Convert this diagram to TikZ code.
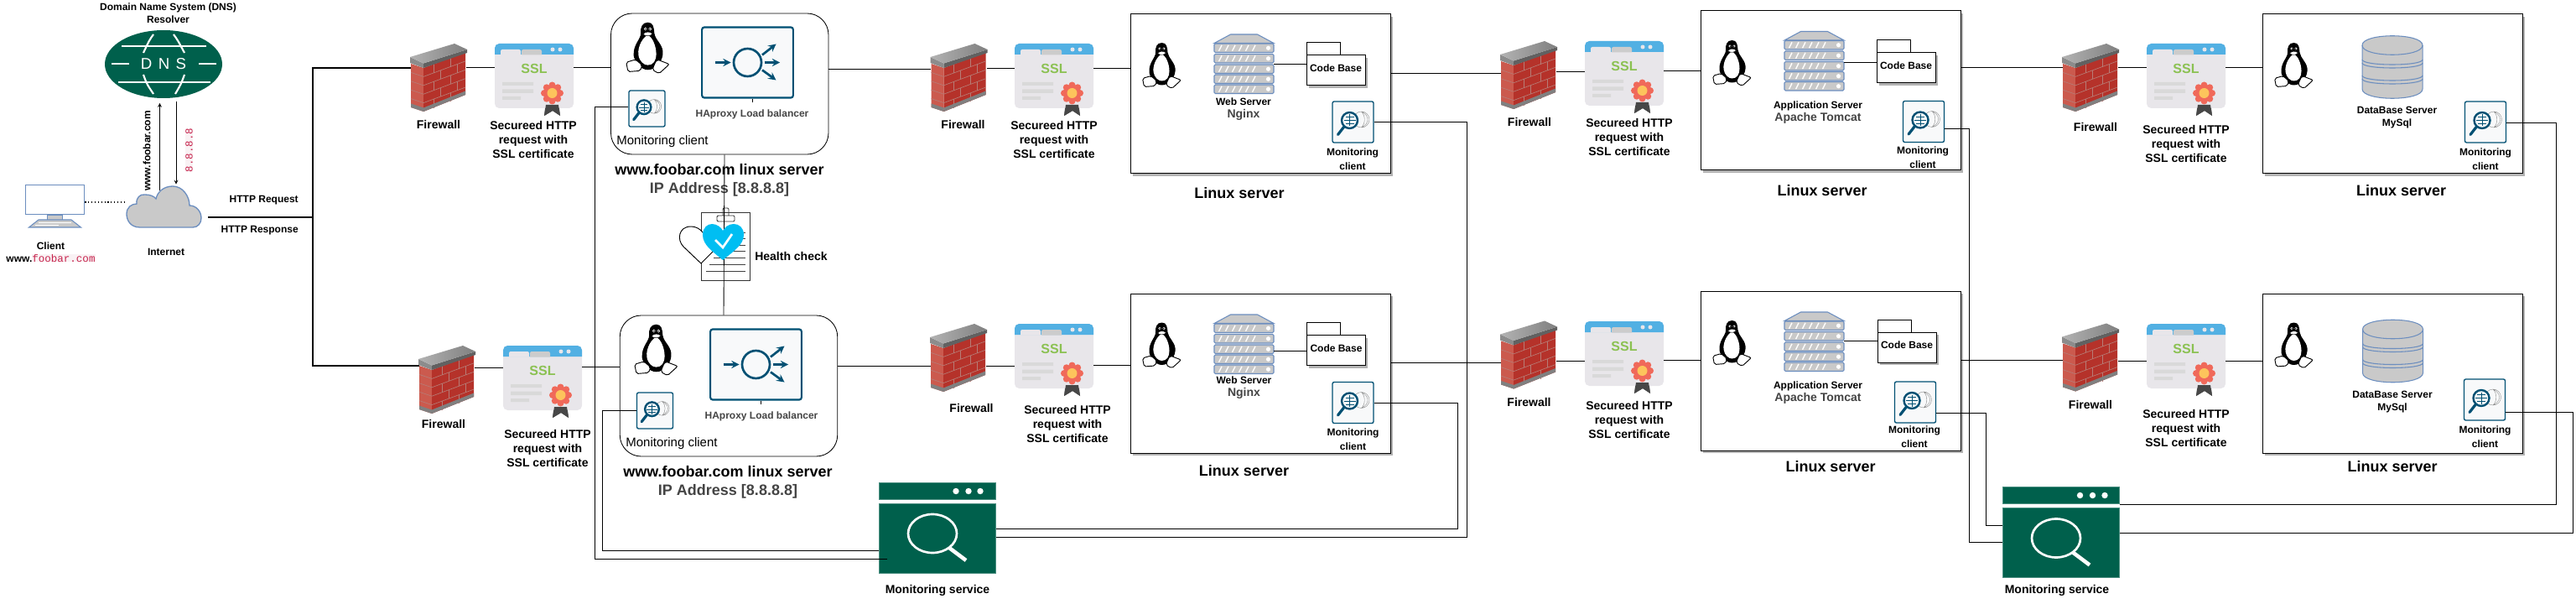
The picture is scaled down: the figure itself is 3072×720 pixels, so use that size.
\documentclass[tikz,border=0pt]{standalone}
\usepackage{fontspec}
\setmainfont{Liberation Sans}
\setsansfont{Liberation Sans}
\setmonofont{Liberation Mono}
\usepackage{xcolor}
\usepackage{tikz}
\usetikzlibrary{shapes,positioning,shadows}
\definecolor{dkgreen}{HTML}{00604C}
\definecolor{edgeblue}{HTML}{6C8EBF}
\definecolor{softgray}{HTML}{C9C9C9}
\definecolor{tealbox}{HTML}{005073}
\definecolor{paper}{HTML}{F8F9FA}
\definecolor{crim}{HTML}{C7254E}
\definecolor{crimbg}{HTML}{F9F2F4}
\definecolor{skyblue}{HTML}{52B0E3}
\definecolor{certbg}{HTML}{E8E6EA}
\definecolor{sslgreen}{HTML}{8BC152}
\definecolor{heartblue}{HTML}{00BEF2}
\definecolor{brick}{HTML}{B5322A}
\definecolor{bricklt}{HTML}{CB5A4E}
\definecolor{txtgray}{HTML}{444444}
\definecolor{rosette}{HTML}{F0695A}
\definecolor{rosettein}{HTML}{FDC45C}
\tikzset{
  wire/.style={draw=black,line width=.65pt},
  fatwire/.style={draw=black,line width=1.5pt},
  lbls/.style={font=\bfseries\fontsize{9}{12.75}\selectfont,align=center,inner sep=0pt},
  lblm/.style={font=\bfseries\fontsize{10.5}{12.75}\selectfont,align=center,inner sep=0pt},
  lblb/.style={font=\bfseries\fontsize{13.5}{16.5}\selectfont,align=center,inner sep=0pt},
  lblstack/.style={font=\bfseries\fontsize{9}{11.25}\selectfont,align=center,inner sep=0pt},
  fwbox/.style={inner sep=0pt,minimum width=49.5pt,minimum height=60pt},
  sslbox/.style={inner sep=0pt,minimum width=70.5pt,minimum height=64.5pt},
  stackbox/.style={inner sep=0pt,minimum width=53.25pt,minimum height=53.25pt},
  lbbox/.style={draw,rounded corners=19pt,line width=.65pt,minimum width=194.6pt,minimum height=126pt},
  srvbox/.style={draw,fill=white,line width=.75pt,minimum width=232.5pt,minimum height=142.5pt,
    drop shadow={shadow xshift=2pt,shadow yshift=-2.5pt,fill=black!30,opacity=1}},
  foldbox/.style={draw,fill=white,line width=.75pt,inner sep=0pt,text depth=4pt,minimum width=52.5pt,minimum height=27pt,
    font=\bfseries\fontsize{9}{11}\selectfont,drop shadow={shadow xshift=2pt,shadow yshift=-2.5pt,fill=black!30,opacity=1}},
  monbox/.style={draw=tealbox,fill=paper,rounded corners=1.5pt,line width=1pt,inner sep=0pt,minimum width=36.75pt,minimum height=36.75pt},
  monsmall/.style={monbox,minimum width=32.25pt,minimum height=32.25pt},
  habox/.style={draw=tealbox,fill=paper,rounded corners=2pt,line width=1.6pt,inner sep=0pt,minimum width=81.5pt,minimum height=63pt},
  svcbody/.style={draw=dkgreen!70!white,fill=dkgreen,inner sep=0pt,minimum width=104.5pt,minimum height=62.5pt},
  svcbar/.style={svcbody,minimum height=15.25pt},
  firewall/.pic={
    \fill[bricklt] (-33,-16.5) -- (-18,-11.5) -- (-18,40.5) -- (-33,35.5) -- cycle;
    \fill[brick] (-18,-11.5) -- (32,-30) -- (32,20.5) -- (-18,40.5) -- cycle;
    \foreach \m in {1,...,4} {
      \draw[black!25!bricklt!70!white,line width=.5pt] (-33,{-16.5+10.4*\m}) -- (-18,{-11.5+10.4*\m}) -- (32,{-30+10.4*\m});
    }
    \foreach \p/\m in {-6/0,14/0,2/1,22/1,-6/2,14/2,2/3,22/3,-6/4,14/4} {
      \draw[black!25!bricklt!70!white,line width=.5pt] (\p,{-11.5+(\p+18)*(-0.37)+10.4*\m}) -- ++(0,10.4);
    }
    \fill[black!50] (-18,40.5) -- (32,20.5) -- (32,16) -- (-18,36) -- cycle;
    \fill[black!50] (-33,35.5) -- (-18,40.5) -- (-18,36) -- (-33,31) -- cycle;
    \fill[black!45] (-34,-24.5) -- (-18,-17) -- (-18,-11.5) -- (-34,-17.5) -- cycle;
    \fill[black!62] (-18,-17) -- (34,-33.5) -- (34,-29.5) -- (-18,-11.5) -- cycle;
    \shade[left color=black!30,right color=black!50] (-34,-24.5) -- (19,-40.5) -- (34,-33.5) -- (-18,-17) -- cycle;
  },
  sslcert/.pic={
    \fill[black!72] (14,26) -- (29,26) -- (31,43) -- (22,37) -- (12,43) -- cycle;
    \fill[certbg,rounded corners=4pt] (-47,-43) rectangle (47,34);
    \fill[black!72] (14,30) -- (29,30) -- (31,43) -- (22,37) -- (12,43) -- cycle;
    \fill[skyblue] (-47,-30) [rounded corners=4pt] -- (-47,-43) -- (47,-43) [sharp corners] -- (47,-30) -- cycle;
    \fill[certbg] (-40,-29.5) [rounded corners=1.5pt] -- (-40,-36) -- (-16,-36) [sharp corners] -- (-16,-29.5) -- cycle;
    \fill[black!20] (-15,-29.5) [rounded corners=1.5pt] -- (-15,-36) -- (9,-36) [sharp corners] -- (9,-29.5) -- cycle;
    \fill[certbg] (22,-36) circle (2.5) (31,-36) circle (2.5);
    \node[inner sep=0pt,text=sslgreen,font=\bfseries\fontsize{12}{14}\selectfont] (-txt) at (0,-13) {SSL};
    \fill[black!15] (-38,3) rectangle (-1,7) (-38,11.5) rectangle (-1,16) (-38,20) rectangle (-16,24);
    \foreach \a in {0,45,...,315} {\fill[rosette] (21.5,16) ++(\a:9.5) circle (4);}
    \fill[rosette] (21.5,16) circle (10);
    \fill[rosettein] (21.5,16) circle (6);
  },
  tux/.pic={
    \fill[black] (0,-27.5) .. controls (-6,-27.5) and (-8,-22) .. (-7.5,-16) .. controls (-7,-10) and (-16,-4) .. (-15,8) .. controls (-14,14) and (-8,23) .. (0,23) .. controls (10,23) and (17,12) .. (16,3) .. controls (15,-5) and (8,-9) .. (7,-16) .. controls (6.5,-22) and (6,-27.5) .. (0,-27.5) -- cycle;
    \fill[white] (0,-14) .. controls (-5,-12) and (-11,-2) .. (-10,7) .. controls (-9,14) and (-4,18) .. (0,18) .. controls (6,18) and (9,13) .. (9,6) .. controls (9,-2) and (5,-12) .. (0,-14) -- cycle;
    \fill[white] (-2.5,-20.5) circle (1.7) (2.5,-20.5) circle (1.7);
    \fill[black] (-2.2,-20.3) circle (.8) (2.2,-20.3) circle (.8);
    \draw[fill=white,line width=.3pt] (-5,-15) .. controls (-2,-18) and (2,-18) .. (5,-15.5) .. controls (3,-12.5) and (-3,-12.5) .. (-5,-15) -- cycle;
    \draw[fill=white,line width=.7pt,rounded corners=1.5pt] (-13,12) -- (-23,15) -- (-21,25) -- (-8,24) -- (-6,18) -- cycle;
    \draw[fill=white,line width=.7pt,rounded corners=1.5pt] (10,12) -- (23,17) -- (12,27) -- (5,23) -- (7,17) -- cycle;
  },
  monglass/.pic={
    \draw[black!45,line width=.3pt] (10,-3) circle (9.5) (10,-12.5) .. controls (15,-8) and (15,2) .. (10,6.5) (10,-12.5) .. controls (20,-8) and (20,2) .. (10,6.5);
    \draw[tealbox,fill=paper,line width=1.8pt] (-4,-2) circle (9.5);
    \draw[tealbox,line width=.3pt] (-4,-9) -- (-4,5) (-11,-2) -- (3,-2) (-9,-6) -- (1,-6) (-9,2) -- (1,2);
    \draw[tealbox,line width=2.4pt,line cap=round] (-11,6) -- (-18,15);
  },
  stack/.pic={
    \draw[draw=edgeblue,fill=softgray,line width=.8pt] (-35.5,-25) -- (-16,-35.5) -- (16,-35.5) -- (35.5,-25) -- cycle;
    \foreach \tp in {-24.5,-12,0.5,12.5,24.5} {
      \draw[draw=edgeblue,fill=softgray,line width=.8pt,rounded corners=1pt] (-35.5,\tp) rectangle (35.5,{\tp+10.5});
      \foreach \s in {-30,-22,-14,-6,2,10} {\draw[white,line width=1pt] (\s,{\tp+8.7}) -- ({\s+3.5},{\tp+1.8});}
      \fill[white] (29,{\tp+5.25}) circle (2.6);
    }
  },
  dbcyl/.pic={
    \draw[draw=edgeblue,fill=softgray,line width=.8pt] (-36,-26) -- (-36,26) .. controls (-36,41) and (36,41) .. (36,26) -- (36,-26) .. controls (36,-41) and (-36,-41) .. (-36,-26) -- cycle;
    \draw[draw=edgeblue,line width=.8pt] (-36,-26) .. controls (-36,-11) and (36,-11) .. (36,-26);
    \foreach \tp in {-9,-5,10,14} {\draw[draw=edgeblue,line width=.8pt] (-36,\tp) .. controls (-36,{\tp+8}) and (36,{\tp+8}) .. (36,\tp);}
  },
  lbflow/.pic={
    \draw[tealbox,line width=2pt] (0,0) circle (16.5);
    \draw[tealbox,line width=2pt,->,>=stealth] (-39,0) -- (-20,0);
    \draw[tealbox,line width=2pt,->,>=stealth] (20,0) -- (38.5,0);
    \draw[tealbox,line width=2pt,->,>=stealth] (17.5,-9) -- (34,-22);
    \draw[tealbox,line width=2pt,->,>=stealth] (17.5,9) -- (34,21);
  }
}
\newcommand{\wire}[3]{\draw[wire] (#1.east |- 0,#3) -- (#2.west |- 0,#3);}

\begin{document}
\begin{tikzpicture}[>=stealth,x=0.75pt,y=-0.75pt]
    \useasboundingbox (0,0) rectangle (3072,720);

    \node[ellipse,fill=dkgreen,minimum width=105pt,minimum height=60.75pt,inner sep=0pt] (dns)at (195,76.5) {};
    \draw[white,line width=1.3pt] (145,54.7) -- (246,54.7) (141,97.7) -- (251,97.7) (133,76) -- (154,76) (237,76) -- (258,76);
    \draw[white,line width=1.6pt] (183,41) .. controls (178,48) .. (171,63) (207,41) .. controls (212,48) .. (220,63) (171,89) .. controls (175,100) .. (183,112) (220,89) .. controls (216,100) .. (209,112);
    \node[inner sep=0pt,text=white,font=\fontsize{14}{16}\selectfont\addfontfeature{LetterSpace=40}] (dnstxt)at (195,76.5) {DNS};
    \node[lblstack] (dnslbl)at (200.5,15.5) {Domain Name System (DNS)\\Resolver};

    \node[inner sep=0pt,minimum width=66.75pt,minimum height=36.75pt] (inet)at (195.5,246.5) {};
    \draw[draw=edgeblue,fill=softgray,line width=1pt] (167,271) .. controls (155,271) and (151,262) .. (151,255) .. controls (151,247) and (157,243) .. (163,243) .. controls (162,236) and (167,231) .. (173,232) .. controls (179,232) and (184,234) .. (186,237) .. controls (188,228) and (196,222) .. (206,222) .. controls (218,222) and (226,234) .. (226,245) .. controls (234,245) and (240,252) .. (240,260) .. controls (240,266) and (236,271) .. (230,271) -- cycle;
    \node[lbls] (inetlbl)at (198,300) {Internet};

    \node[draw=edgeblue,fill=white,line width=1.2pt,inner sep=0pt,minimum width=52.5pt,minimum height=26.5pt] (client)at (65.5,238) {};
    \draw[draw=edgeblue,fill=softgray,line width=.6pt] (56.5,256.5) rectangle (74.5,262);
    \draw[draw=edgeblue,fill=softgray,line width=.8pt] (46,262) -- (85,262) -- (96.5,271) -- (34.5,271) -- cycle;
    \draw[white,line width=.6pt] (46,265.5) -- (85,265.5) (42,268.5) -- (70,268.5);
    \node[lbls,font=\bfseries\fontsize{9}{11.25}\selectfont] (clientlbl)at (60.5,300.5) {Client\\www.\fboxsep=0pt\colorbox{crimbg}{\ttfamily\mdseries\fontsize{9.4}{11.25}\selectfont\textcolor{crim}{foobar.com}}};
    \draw[black,line width=.9pt,dotted] (client.east |- 0,241) -- (inet.west |- 0,241);

    \draw[->,line width=.7pt] ([shift={(-5,5)}]inet.north) -- ([shift={(-4.5,5.5)}]dns.south);
    \draw[->,line width=.7pt] ([shift={(15,3.5)}]dns.south) -- ([shift={(14.5,-2)}]inet.north);
    \node[lbls,rotate=90] (askname)at (175,180) {www.foobar.com};
    \node[inner sep=0pt,rotate=90,fill=crimbg,text=crim,font=\ttfamily\fontsize{9.3}{11}\selectfont] (askip)at (225.5,179) {8.8.8.8};

    \coordinate (trunk)at (373,259);
    \draw[fatwire] ([xshift=6pt]inet.east |- trunk) -- (trunk);
    \node[lbls,anchor=east] (reqlbl)at (356,239) {HTTP Request};
    \node[lbls,anchor=east] (resplbl)at (356,275) {HTTP Response};

    \node[lbbox] (lba)at (858.25,100) {};
    \node[lbbox] (lbb)at (869,460) {};
    \node[srvbox] (srva)at (1503.5,111.5) {};
    \node[srvbox] (srvb)at (1503.5,445) {};
    \node[srvbox] (srvc)at (2183,108) {};
    \node[srvbox] (srvd)at (2183,442) {};
    \node[srvbox] (srve)at (2853.5,111.5) {};
    \node[srvbox] (srvf)at (2853,445) {};

    \foreach \n/\px/\py/\lx/\ly in {fwa/523/92.5/523/148,fwb/533/452.5/529/505,fwc/1143.5/92.5/1148.5/148,fwd/1143/426.5/1158.5/486,fwe/1823/89.5/1824/145,fwf/1823/423/1823.5/479,fwg/2493/92.5/2499/151,fwh/2493/426/2493/482} {
        \node[fwbox] (\n)at (\px,\py) {};
        \pic (\n-ic) at (\n) {firewall};
        \node[lblm] (\n-lbl)at (\lx,\ly) {Firewall};
    }
    \foreach \n/\px/\py/\lx/\ly in {ssla/637/95/636/166,sslb/647/455/653/534,sslc/1257/95/1257/166,ssld/1257/429/1273/505,ssle/1937/92/1943/163,sslf/1937/426/1943/500,sslg/2607/95/2607/171,sslh/2607/429/2607/510} {
        \node[sslbox] (\n)at (\px,\py) {};
        \pic (\n-ic) at (\n) {sslcert};
        \node[lblm] (\n-lbl)at (\lx,\ly) {Secureed HTTP\\request with\\SSL certificate};
    }
    \foreach \n/\px/\py/\sc in {tuxa/772.5/57.5/1.12,tuxb/782.5/417.5/1.12,tuxc/1385.5/78.5/1,tuxd/1385.5/412/1,tuxe/2065.5/75.5/1,tuxf/2065.5/409.5/1,tuxg/2735.5/78.5/1,tuxh/2735.5/412/1} {
        \pic[scale=\sc] (\n) at (\px,\py) {tux};
    }
    \foreach \n/\px/\py in {stka/1483.5/76.5,stkb/1483.5/410.5,stkc/2163.5/73,stkd/2163.5/407.5} {
        \node[stackbox] (\n)at (\px,\py) {};
        \pic (\n-ic) at (\n) {stack};
    }
    \node[stackbox] (dba)at (2853,80) {};
    \pic (dba-ic) at (dba) {dbcyl};
    \node[stackbox] (dbb)at (2853.5,418.5) {};
    \pic (dbb-ic) at (dbb) {dbcyl};
    \foreach \n/\px/\py in {folda/1593/84,foldb/1593.5/417.5,foldc/2273/80.5,foldd/2274/414} {
        \draw[fill=white,line width=.75pt] (\px-35,\py-18) -- ++(0,-15) -- ++(40,0) -- ++(0,15);
        \node[foldbox] (\n)at (\px,\py) {Code Base};
    }

    \node[habox] (haa)at (891.5,74.5) {};
    \pic (haa-ic) at (haa) {lbflow};
    \node[habox] (hab)at (901.5,434.5) {};
    \pic (hab-ic) at (hab) {lbflow};
    \draw[wire] (haa.south -| 897,0) -- ++(0,4);
    \draw[wire] (hab.south -| 907,0) -- ++(0,4);
    \node[lbls,text=txtgray] (halbla)at (897,136) {HAproxy Load balancer};
    \node[lbls,text=txtgray] (halblb)at (908,496) {HAproxy Load balancer};
    \node[inner sep=0pt,font=\fontsize{11.25}{13}\selectfont] (mclbla)at (790,169) {Monitoring client};
    \node[inner sep=0pt,font=\fontsize{11.25}{13}\selectfont] (mclblb)at (801,529) {Monitoring client};
    \node[lblb] (namea)at (858,215) {www.foobar.com linux server\\\textcolor{txtgray}{IP Address [8.8.8.8]}};
    \node[lblb] (nameb)at (868,575) {www.foobar.com linux server\\\textcolor{txtgray}{IP Address [8.8.8.8]}};

    \foreach \n/\px/\py in {mona/771.5/129.5,monb/781/489.5} {
        \node[monsmall] (\n)at (\px,\py) {};
        \pic[scale=.88] (\n-ic) at (\n) {monglass};
    }
    \foreach \n/\px/\py/\lx/\ly in {monc/1613.5/145.5/1613/189.5,mond/1613.5/480/1613.5/523.5,mone/2294/145/2293/187.5,monf/2284/479.5/2283/520.5,mong/2964/145.5/2964/189.5,monh/2963/476.5/2963.5/520.5} {
        \node[monbox] (\n)at (\px,\py) {};
        \pic (\n-ic) at (\n) {monglass};
        \node[lbls] (\n-lbl)at (\lx,\ly) {Monitoring\\client};
    }

    \node[lblstack] (weba)at (1483,130.5) {Web Server\\\textcolor{txtgray}{\fontsize{10.5}{11.25}\selectfont Nginx}};
    \node[lblstack] (webb)at (1483.5,462) {Web Server\\\textcolor{txtgray}{\fontsize{10.5}{11.25}\selectfont Nginx}};
    \node[lblstack] (appa)at (2168,134.5) {Application Server\\\textcolor{txtgray}{\fontsize{10.5}{11.25}\selectfont Apache Tomcat}};
    \node[lblstack] (appb)at (2168,468.5) {Application Server\\\textcolor{txtgray}{\fontsize{10.5}{11.25}\selectfont Apache Tomcat}};
    \node[lblstack] (dbtxta)at (2858.5,140.5) {DataBase Server\\MySql};
    \node[lblstack] (dbtxtb)at (2853,479.5) {DataBase Server\\MySql};
    \node[lblb] (srvlbla)at (1478,230) {Linux server};
    \node[lblb] (srvlblb)at (1483.5,561) {Linux server};
    \node[lblb] (srvlblc)at (2173,227) {Linux server};
    \node[lblb] (srvlbld)at (2183,556) {Linux server};
    \node[lblb] (srvlble)at (2863.5,227) {Linux server};
    \node[lblb] (srvlblf)at (2853,556) {Linux server};

    \node[svcbar] (svcatop)at (1118,585.5) {};
    \node[svcbody] (svca)at (1118,642) {};
    \node[svcbar] (svcbtop)at (2458,590.5) {};
    \node[svcbody] (svcb)at (2458,647) {};
    \fill[white] (1140,585.5) circle (3.7) (1155,585.5) circle (3.7) (1169,585.5) circle (3.7);
    \fill[white] (2480.5,590.5) circle (3.7) (2495.5,590.5) circle (3.7) (2510,590.5) circle (3.7);
    \foreach \n/\px/\py in {svca/1112/636,svcb/2452/641.5} {
        \draw[white,line width=2pt] (\px,\py) ellipse (29 and 23);
        \draw[white,line width=3.4pt] (\px+20,\py+17) -- (\px+40,\py+32);
    }
    \node[lblm] (svcalbl)at (1118,704) {Monitoring service};
    \node[lblm] (svcblbl)at (2453,704) {Monitoring service};

    \draw[fatwire] (fwa.west |- 0,81) -| (trunk);
    \draw[fatwire] (fwb.west |- 0,436) -| (trunk);
    \wire{fwa}{ssla}{80}
    \wire{ssla}{lba}{80}
    \wire{lba}{fwc}{82}
    \wire{fwc}{sslc}{81}
    \wire{sslc}{srva}{81}
    \wire{srva}{fwe}{87}
    \wire{fwe}{ssle}{85}
    \wire{ssle}{srvc}{84}
    \wire{srvc}{fwg}{80}
    \wire{fwg}{sslg}{80}
    \wire{sslg}{srve}{80}
    \wire{fwb}{sslb}{438}
    \wire{sslb}{lbb}{437}
    \wire{lbb}{fwd}{436}
    \wire{fwd}{ssld}{436}
    \wire{ssld}{srvb}{435}
    \wire{srvb}{fwf}{432}
    \wire{fwf}{sslf}{430}
    \wire{sslf}{srvd}{429}
    \wire{srvd}{fwh}{429}
    \wire{fwh}{sslh}{430}
    \wire{sslh}{srvf}{430}
    \wire{stka}{folda}{76}
    \wire{stkb}{foldb}{418}
    \wire{stkc}{foldc}{74}
    \wire{stkd}{foldd}{406}

    \draw[wire] (mona.west |- 0,127) -| (709,666) -- ([xshift=7.5pt]svca.west |- 0,666);
    \draw[wire] (monb.west |- 0,489) -| (718.5,656) -- (svca.west |- 0,656);
    \draw[wire] (monc.east |- 0,145) -| (1749,640) -- (svca.east |- 0,640);
    \draw[wire] (mond.east |- 0,480) -| (1738,630) -- (svca.east |- 0,630);
    \draw[wire] (mone.east |- 0,153) -| (2348.5,646) -- (svcb.west |- 0,646);
    \draw[wire] (monf.east |- 0,492) -| (2368,626) -- (svcb.west |- 0,626);
    \draw[wire] (mong.east |- 0,146) -| (3048,601) -- (svcbtop.east |- 0,601);
    \draw[wire] (monh.east |- 0,491) -| (3068,635) -- (svcb.east |- 0,635);

    \node[draw=black!80,line width=.7pt,inner sep=0pt,minimum width=43.5pt,minimum height=60.75pt] (chart)at (865,293.5) {};
    \draw[black!80,line width=.7pt,rounded corners=1pt] (855,264) rectangle (876,257) (862,257) -- (862,248) -- (869,248) -- (869,257);
    \foreach \tp/\lft in {277/860,284/860,292/860,299/855,307/851,315/846,323/842} {\draw[black!75,line width=.7pt] (\lft,\tp) -- (889,\tp);}
    \draw[wire] ([xshift=4.3pt]lba.south) -- ([xshift=-4.5pt]lbb.north);
    \draw[fill=white,line width=.7pt] (836,314) -- (815,294) .. controls (807,286) and (809,270) .. (824,270) .. controls (830,270) and (835,273) .. (838,277) -- (855,295) -- cycle;
    \fill[heartblue] (862,310) .. controls (850,300) and (838,292) .. (838,280) .. controls (838,271) and (844,267) .. (849,267) .. controls (855,267) and (860,271) .. (862,275) .. controls (864,271) and (869,267) .. (875,267) .. controls (881,267) and (887,271) .. (887,280) .. controls (887,292) and (874,300) .. (862,310) -- cycle;
    \draw[white,line width=2pt] (853,286) -- (862,295) -- (873,279);
    \node[lblm,anchor=west] (healthlbl)at (900,305) {Health check};
\end{tikzpicture}
\end{document}
